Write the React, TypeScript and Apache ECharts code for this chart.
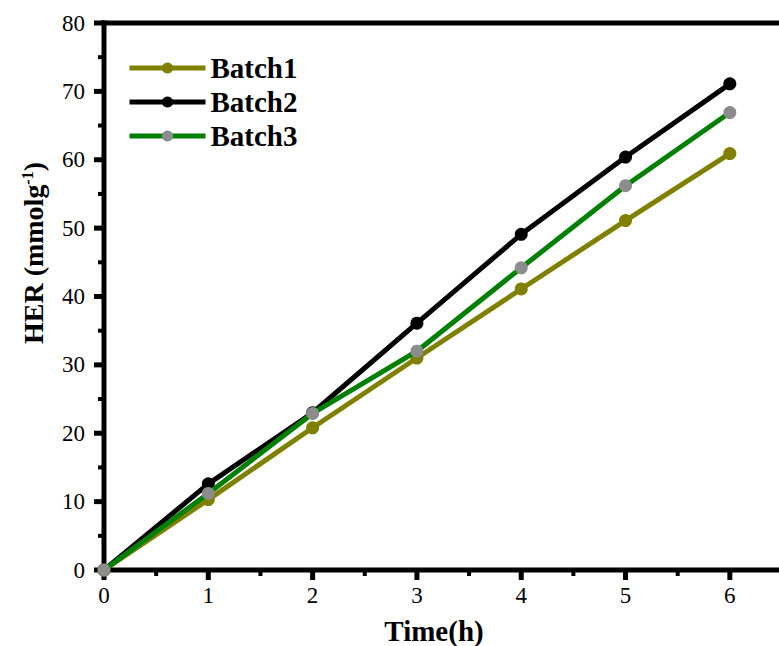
import React, { useEffect, useRef } from "react";
import * as echarts from "echarts";

const hours = [0, 1, 2, 3, 4, 5, 6];
const batch1 = [0, 10.3, 20.8, 31.0, 41.1, 51.1, 60.9];
const batch2 = [0, 12.6, 23.0, 36.1, 49.1, 60.4, 71.1];
const batch3 = [0, 11.2, 22.9, 32.0, 44.2, 56.2, 66.9];
const seriesNames = ["Batch1", "Batch2", "Batch3"];
const lineColors = ["#808000", "#000000", "#008000"];
const markerColors = ["#808000", "#000000", "#8c8c8c"];

// Tick positions of the framed axes (major and minor)
const xMajorTicks = [0, 1, 2, 3, 4, 5, 6];
const xMinorTicks = [0.5, 1.5, 2.5, 3.5, 4.5, 5.5];
const yMajorTicks = [0, 10, 20, 30, 40, 50, 60, 70, 80];
const yMinorTicks = [5, 15, 25, 35, 45, 55, 65, 75];

const X_MAX = 6.5;
const Y_MAX = 80;
const FONT = "Liberation Serif";
const FRAME_W = 5;

export default function App() {
  const ref = useRef<HTMLDivElement>(null);

  useEffect(() => {
    if (!ref.current) return;
    const chart = echarts.init(ref.current, null, { renderer: "svg" });
    const values = [batch1, batch2, batch3];

    chart.setOption({
      animation: false,
      backgroundColor: "#fff",
      textStyle: { fontFamily: FONT },
      grid: {
        left: 104,
        top: 23,
        width: 678,
        height: 547,
        containLabel: false,
        outerBoundsMode: "none",
      },
      legend: {
        orient: "vertical",
        left: 127,
        top: 51,
        padding: 0,
        itemWidth: 76,
        itemHeight: 14,
        itemGap: 0,
        data: seriesNames,
        lineStyle: { width: 5 },
        textStyle: {
          fontFamily: FONT,
          fontSize: 29,
          fontWeight: "bold",
          color: "#000",
          lineHeight: 34,
        },
      },
      xAxis: {
        type: "value",
        min: 0,
        max: X_MAX,
        interval: 1,
        axisLine: { show: false },
        axisTick: { show: false },
        axisLabel: {
          fontFamily: FONT,
          fontSize: 23,
          color: "#000",
          margin: 14,
          formatter: (v: number) => (Number.isInteger(v) && v <= 6 ? String(v) : ""),
        },
        splitLine: { show: false },
      },
      yAxis: {
        type: "value",
        min: 0,
        max: Y_MAX,
        interval: 10,
        axisLine: { show: false },
        axisTick: { show: false },
        axisLabel: { fontFamily: FONT, fontSize: 23, color: "#000", margin: 19 },
        splitLine: { show: false },
      },
      series: seriesNames.map((name, i) => ({
        name,
        type: "line",
        data: hours.map((h, j) => [h, values[i][j]]),
        symbol: "circle",
        symbolSize: 13,
        lineStyle: { color: lineColors[i], width: 5 },
        itemStyle: { color: markerColors[i], borderWidth: 0 },
        emphasis: { disabled: true },
        z: 2 + i,
      })),
    });

    // Frame and ticks, positioned through the grid's own coordinate system
    const px = (x: number, y: number) =>
      chart.convertToPixel({ gridIndex: 0 }, [x, y]) as number[];
    const [x0, y0] = px(0, 0);
    const [x1, y1] = px(X_MAX, Y_MAX);
    const seg = (ax: number, ay: number, bx: number, by: number, w = FRAME_W) => ({
      type: "line",
      silent: true,
      z: 1,
      shape: { x1: ax, y1: ay, x2: bx, y2: by },
      style: { stroke: "#000", lineWidth: w, lineCap: "butt" },
    });

    const frame = [
      seg(x0, y0 + FRAME_W / 2, x0, y1 - FRAME_W / 2),
      seg(x0 - FRAME_W / 2, y0, x1 + 4, y0),
      seg(x0 - FRAME_W / 2, y1, x1 + 4, y1),
    ];
    const ticks = [
      ...xMajorTicks.map((v) => {
        const [p] = px(v, 0);
        return seg(p, y0, p, y0 + 10);
      }),
      ...xMinorTicks.map((v) => {
        const [p] = px(v, 0);
        return seg(p, y0, p, y0 + 6, 4);
      }),
      ...yMajorTicks.map((v) => {
        const p = px(0, v)[1];
        return seg(x0, p, x0 - 10, p);
      }),
      ...yMinorTicks.map((v) => {
        const p = px(0, v)[1];
        return seg(x0, p, x0 - 6, p, 4);
      }),
    ];

    chart.setOption({
      graphic: [
        ...frame,
        ...ticks,
        {
          type: "text",
          x: 33,
          y: 253,
          rotation: Math.PI / 2,
          style: {
            text: "HER (mmolg{sup|-1})",
            fill: "#000",
            font: "bold 28px " + FONT,
            align: "center",
            verticalAlign: "middle",
            rich: {
              sup: {
                font: "bold 16px " + FONT,
                fill: "#000",
                verticalAlign: "top",
                padding: [0, 0, 12, 0],
              },
            },
          },
        },
        {
          type: "text",
          x: 434,
          y: 631,
          style: {
            text: "Time(h)",
            fill: "#000",
            font: "bold 29px " + FONT,
            align: "center",
            verticalAlign: "middle",
          },
        },
      ],
    });

    return () => chart.dispose();
  }, []);

  return (
    <div
      ref={ref}
      style={{ position: "fixed", left: 0, top: 0, width: 779, height: 646 }}
    />
  );
}
